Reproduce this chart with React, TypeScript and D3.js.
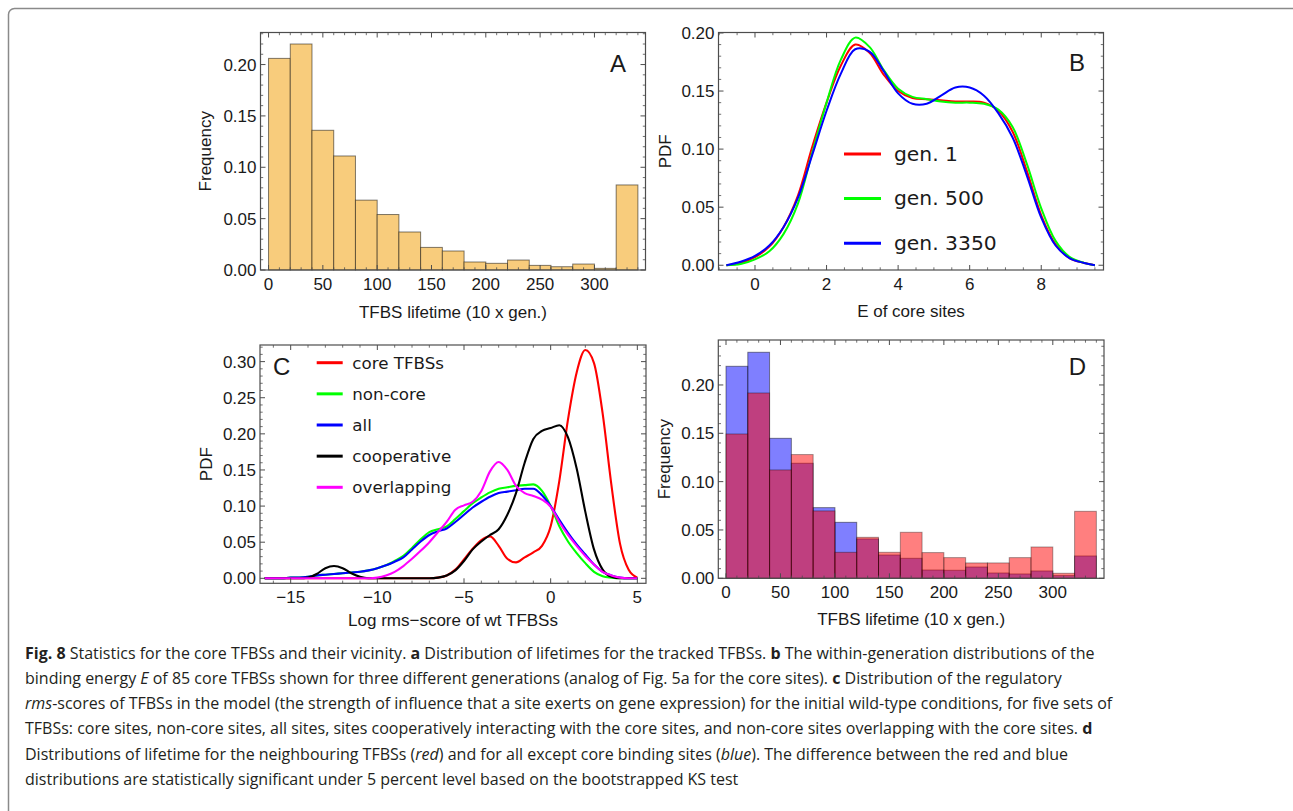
import React from "react";
import * as d3 from "d3";

// ---------- Panel A ----------
const binStarts = [0, 20, 40, 60, 80, 100, 120, 140, 160, 180, 200, 220, 240, 260, 280, 300, 320];
const binWidth = 20;
const lifetimeFreqA = [0.206, 0.22, 0.136, 0.111, 0.068, 0.054, 0.037, 0.022, 0.0185, 0.0078, 0.0065, 0.0097, 0.0045, 0.0032, 0.0058, 0.0016, 0.0828];
const lifetimeTicks = [0, 50, 100, 150, 200, 250, 300];
const freqTicksA = [0, 0.05, 0.1, 0.15, 0.2];

// ---------- Panel B ----------
const energyGrid = [-0.8, -0.4, 0, 0.4, 0.8, 1.2, 1.6, 2.0, 2.4, 2.8, 3.2, 3.6, 4.0, 4.4, 4.8, 5.2, 5.6, 6.0, 6.4, 6.8, 7.2, 7.6, 8.0, 8.4, 8.8, 9.2, 9.5];
const pdfGen1 = [0, 0.002, 0.007, 0.016, 0.033, 0.06, 0.102, 0.14, 0.172, 0.19, 0.183, 0.164, 0.15, 0.144, 0.143, 0.142, 0.141, 0.141, 0.14, 0.133, 0.115, 0.081, 0.043, 0.018, 0.006, 0.002, 0];
const pdfGen500 = [0, 0.001, 0.005, 0.012, 0.027, 0.053, 0.097, 0.14, 0.177, 0.196, 0.188, 0.168, 0.152, 0.145, 0.143, 0.141, 0.14, 0.14, 0.139, 0.134, 0.119, 0.087, 0.049, 0.021, 0.007, 0.002, 0];
const pdfGen3350 = [0, 0.003, 0.008, 0.017, 0.033, 0.058, 0.095, 0.133, 0.165, 0.186, 0.184, 0.167, 0.148, 0.139, 0.139, 0.146, 0.153, 0.153, 0.146, 0.131, 0.11, 0.077, 0.041, 0.017, 0.006, 0.002, 0];
const energyTicks = [0, 2, 4, 6, 8];
const pdfTicksB = [0, 0.05, 0.1, 0.15, 0.2];
const legendB = ["gen. 1", "gen. 500", "gen. 3350"];
const colorsB = ["#ff0000", "#00ff00", "#0000ff"];

// ---------- Panel C ----------
const scoreGrid = [-16.5, -16, -15.5, -15, -14.5, -14, -13.5, -13, -12.5, -12, -11.5, -11, -10.5, -10, -9.5, -9, -8.5, -8, -7.5, -7, -6.5, -6, -5.5, -5, -4.5, -4, -3.5, -3, -2.5, -2, -1.5, -1, -0.5, 0, 0.5, 1, 1.5, 2, 2.5, 3, 3.5, 4, 4.5, 5];
const pdfCore = [0, 0, 0, 0, 0, 0, 0, 0, 0, 0, 0, 0, 0, 0, 0, 0, 0, 0, 0, 0, 0.001, 0.004, 0.012, 0.026, 0.041, 0.053, 0.058, 0.045, 0.027, 0.022, 0.029, 0.036, 0.045, 0.072, 0.135, 0.22, 0.285, 0.316, 0.298, 0.228, 0.13, 0.048, 0.012, 0.001];
const pdfNonCore = [0, 0, 0, 0.001, 0.001, 0.002, 0.004, 0.005, 0.006, 0.007, 0.008, 0.009, 0.011, 0.014, 0.018, 0.024, 0.031, 0.042, 0.054, 0.064, 0.068, 0.072, 0.082, 0.093, 0.104, 0.112, 0.119, 0.124, 0.126, 0.128, 0.129, 0.13, 0.121, 0.1, 0.072, 0.051, 0.035, 0.021, 0.009, 0.003, 0.001, 0, 0, 0];
const pdfAll = [0, 0, 0, 0.001, 0.001, 0.002, 0.004, 0.005, 0.006, 0.007, 0.008, 0.009, 0.011, 0.014, 0.018, 0.023, 0.029, 0.04, 0.051, 0.06, 0.065, 0.069, 0.078, 0.088, 0.098, 0.106, 0.113, 0.118, 0.12, 0.122, 0.124, 0.124, 0.115, 0.1, 0.081, 0.063, 0.047, 0.033, 0.019, 0.009, 0.004, 0.001, 0, 0];
const pdfCoop = [0, 0, 0, 0, 0, 0.001, 0.006, 0.014, 0.017, 0.014, 0.007, 0.002, 0, 0, 0, 0, 0, 0, 0, 0, 0.001, 0.004, 0.011, 0.024, 0.04, 0.051, 0.06, 0.068, 0.088, 0.118, 0.16, 0.193, 0.204, 0.208, 0.212, 0.195, 0.152, 0.092, 0.04, 0.012, 0.002, 0, 0, 0];
const pdfOverlap = [0, 0, 0, 0, 0, 0, 0, 0, 0, 0, 0, 0, 0, 0.001, 0.004, 0.009, 0.017, 0.027, 0.038, 0.05, 0.064, 0.078, 0.095, 0.101, 0.106, 0.121, 0.148, 0.161, 0.15, 0.128, 0.118, 0.114, 0.109, 0.099, 0.078, 0.06, 0.045, 0.031, 0.019, 0.009, 0.004, 0.001, 0, 0];
const legendC = ["core TFBSs", "non-core", "all", "cooperative", "overlapping"];
const colorsC = ["#ff0000", "#00ff00", "#0000ff", "#000000", "#ff00ff"];
const scoreTicks = [-15, -10, -5, 0, 5];
const scoreTickLabels = ["\u221215", "\u221210", "\u22125", "0", "5"];
const pdfTicksC = [0, 0.05, 0.1, 0.15, 0.2, 0.25, 0.3];

// ---------- Panel D ----------
const freqAllExceptCore = [0.2193, 0.2338, 0.1448, 0.119, 0.0731, 0.0579, 0.0407, 0.0241, 0.0207, 0.0086, 0.0083, 0.0117, 0.0055, 0.0045, 0.0076, 0.0028, 0.0231];
const freqNeighbour = [0.1493, 0.1917, 0.1121, 0.128, 0.0697, 0.0269, 0.0424, 0.0269, 0.0476, 0.0266, 0.0214, 0.0159, 0.0159, 0.0214, 0.0324, 0.0052, 0.0693];
const freqTicksD = [0, 0.05, 0.1, 0.15, 0.2];

// ---------- Caption ----------
const captionLines: [string, string][][] = [
  [["b", "Fig. 8"], ["n", " Statistics for the core TFBSs and their vicinity. "], ["b", "a"], ["n", " Distribution of lifetimes for the tracked TFBSs. "], ["b", "b"], ["n", " The within-generation distributions of the"]],
  [["n", "binding energy "], ["i", "E"], ["n", " of 85 core TFBSs shown for three different generations (analog of Fig. 5a for the core sites). "], ["b", "c"], ["n", " Distribution of the regulatory"]],
  [["i", "rms"], ["n", "-scores of TFBSs in the model (the strength of influence that a site exerts on gene expression) for the initial wild-type conditions, for five sets of"]],
  [["n", "TFBSs: core sites, non-core sites, all sites, sites cooperatively interacting with the core sites, and non-core sites overlapping with the core sites. "], ["b", "d"]],
  [["n", "Distributions of lifetime for the neighbouring TFBSs ("], ["i", "red"], ["n", ") and for all except core binding sites ("], ["i", "blue"], ["n", "). The difference between the red and blue"]],
  [["n", "distributions are statistically significant under 5 percent level based on the bootstrapped KS test"]],
];

const AX_FONT = "'Liberation Sans', Arial, sans-serif";
const FRAME = "#4d4d4d";

type Box = { l: number; r: number; t: number; b: number };

function Frame(props: {
  box: Box;
  x: d3.ScaleLinear<number, number>;
  y: d3.ScaleLinear<number, number>;
  xTicks: number[];
  xLabels: string[];
  xMinor: number;
  yTicks: number[];
  yLabels: string[];
  yMinor: number;
  xTitle: string;
  xTitleY: number;
  yTitle: string;
  yTitleX: number;
  letter: string;
  letterX: number;
  letterY: number;
}) {
  const { box, x, y } = props;
  const [x0, x1] = x.domain();
  const [y0, y1] = y.domain();
  const xm = d3.range(Math.ceil(x0 / props.xMinor) * props.xMinor, x1, props.xMinor).filter((v) => !props.xTicks.some((t) => Math.abs(t - v) < 1e-9));
  const ym = d3.range(Math.ceil((y0 - 1e-9) / props.yMinor) * props.yMinor, y1, props.yMinor).filter((v) => !props.yTicks.some((t) => Math.abs(t - v) < 1e-9));
  const M = 5, m = 2.7;
  const cx = (box.l + box.r) / 2;
  const cy = (box.t + box.b) / 2;
  return (
    <g>
      <rect x={box.l} y={box.t} width={box.r - box.l} height={box.b - box.t} fill="none" stroke={FRAME} strokeWidth={1.2} />
      {props.xTicks.map((t) => (
        <g key={"xt" + t}>
          <line x1={x(t)} x2={x(t)} y1={box.b} y2={box.b - M} stroke={FRAME} />
          <line x1={x(t)} x2={x(t)} y1={box.t} y2={box.t + M} stroke={FRAME} />
        </g>
      ))}
      {xm.map((t) => (
        <g key={"xm" + t}>
          <line x1={x(t)} x2={x(t)} y1={box.b} y2={box.b - m} stroke={FRAME} strokeWidth={0.8} />
          <line x1={x(t)} x2={x(t)} y1={box.t} y2={box.t + m} stroke={FRAME} strokeWidth={0.8} />
        </g>
      ))}
      {props.yTicks.map((t) => (
        <g key={"yt" + t}>
          <line x1={box.l} x2={box.l + M} y1={y(t)} y2={y(t)} stroke={FRAME} />
          <line x1={box.r} x2={box.r - M} y1={y(t)} y2={y(t)} stroke={FRAME} />
        </g>
      ))}
      {ym.map((t) => (
        <g key={"ym" + t}>
          <line x1={box.l} x2={box.l + m} y1={y(t)} y2={y(t)} stroke={FRAME} strokeWidth={0.8} />
          <line x1={box.r} x2={box.r - m} y1={y(t)} y2={y(t)} stroke={FRAME} strokeWidth={0.8} />
        </g>
      ))}
      <g fontFamily={AX_FONT} fontSize={17} fill="#1a1a1a">
        {props.xTicks.map((t, i) => (
          <text key={"xl" + t} x={x(t)} y={box.b + 19.5} textAnchor="middle">{props.xLabels[i]}</text>
        ))}
        {props.yTicks.map((t, i) => (
          <text key={"yl" + t} x={box.l - 4} y={y(t) + 6} textAnchor="end">{props.yLabels[i]}</text>
        ))}
        <text x={cx} y={props.xTitleY} textAnchor="middle">{props.xTitle}</text>
        <text transform={`translate(${props.yTitleX},${cy}) rotate(-90)`} textAnchor="middle">{props.yTitle}</text>
        <text x={props.letterX} y={props.letterY} textAnchor="middle" fontSize={24}>{props.letter}</text>
      </g>
    </g>
  );
}

const fmt2 = d3.format(".2f");

export default function App() {
  // Panel A
  const boxA: Box = { l: 260.5, r: 645.5, t: 32.5, b: 270 };
  const xA = d3.scaleLinear().domain([-7.4, 347]).range([boxA.l, boxA.r]);
  const yA = d3.scaleLinear().domain([0, 0.2312]).range([boxA.b, boxA.t]);

  // Panel B
  const boxB: Box = { l: 718.5, r: 1103.5, t: 32.5, b: 270 };
  const xB = d3.scaleLinear().domain([-1.02, 9.74]).range([boxB.l, boxB.r]);
  const yB = d3.scaleLinear().domain([-0.0041, 0.2004]).range([boxB.b, boxB.t]);
  const lineB = (vals: number[]) =>
    d3.line<number>().x((_, i) => xB(energyGrid[i])).y((v) => yB(v)).curve(d3.curveCatmullRom.alpha(0.5))(vals) || "";
  const seriesB = [pdfGen1, pdfGen500, pdfGen3350];

  // Panel C
  const boxC: Box = { l: 260, r: 646, t: 345, b: 583.3 };
  const xC = d3.scaleLinear().domain([-16.77, 5.5]).range([boxC.l, boxC.r]);
  const yC = d3.scaleLinear().domain([-0.0069, 0.323]).range([boxC.b, boxC.t]);
  const lineC = (vals: number[]) =>
    d3.line<number>().x((_, i) => xC(scoreGrid[i])).y((v) => yC(v)).curve(d3.curveMonotoneX)(vals) || "";
  const seriesC = [pdfCore, pdfNonCore, pdfAll, pdfCoop, pdfOverlap];

  // Panel D
  const boxD: Box = { l: 718.3, r: 1104, t: 340, b: 578.3 };
  const xD = d3.scaleLinear().domain([-7.07, 347]).range([boxD.l, boxD.r]);
  const yD = d3.scaleLinear().domain([0, 0.2465]).range([boxD.b, boxD.t]);

  return (
    <svg width={1293} height={811} style={{ position: "absolute", left: 0, top: 0, background: "#fff" }} xmlns="http://www.w3.org/2000/svg">
      <rect x={8.5} y={8.5} width={1400} height={900} rx={6} fill="none" stroke="#8a8a8a" strokeWidth={1.5} />

      {/* Panel A */}
      <g>
        {binStarts.map((s, i) => (
          <rect key={"a" + i} x={xA(s)} y={yA(lifetimeFreqA[i])} width={xA(s + binWidth) - xA(s)} height={yA(0) - yA(lifetimeFreqA[i])}
            fill="#f8cc7c" stroke="#000" strokeOpacity={0.5} strokeWidth={1} />
        ))}
        <Frame box={boxA} x={xA} y={yA} xTicks={lifetimeTicks} xLabels={lifetimeTicks.map(String)} xMinor={10}
          yTicks={freqTicksA} yLabels={freqTicksA.map(fmt2)} yMinor={0.01}
          xTitle="TFBS lifetime (10 x gen.)" xTitleY={318} yTitle="Frequency" yTitleX={210.5}
          letter="A" letterX={618} letterY={72} />
      </g>

      {/* Panel B */}
      <g>
        <g fill="none" strokeWidth={2}>
          {seriesB.map((s, i) => (
            <path key={"b" + i} d={lineB(s)} stroke={colorsB[i]} />
          ))}
        </g>
        {legendB.map((name, i) => (
          <g key={"lb" + i}>
            <line x1={844} x2={881} y1={154 + i * 44.6} y2={154 + i * 44.6} stroke={colorsB[i]} strokeWidth={3} />
            <text x={894} y={161 + i * 44.3} fontFamily="'DejaVu Sans', sans-serif" fontSize={20.3} fill="#1a1a1a">{name}</text>
          </g>
        ))}
        <Frame box={boxB} x={xB} y={yB} xTicks={energyTicks} xLabels={energyTicks.map(String)} xMinor={0.5}
          yTicks={pdfTicksB} yLabels={pdfTicksB.map(fmt2)} yMinor={0.01}
          xTitle="E of core sites" xTitleY={317} yTitle="PDF" yTitleX={670.5}
          letter="B" letterX={1077} letterY={71} />
      </g>

      {/* Panel C */}
      <g>
        <g fill="none" strokeWidth={2.1}>
          {seriesC.map((s, i) => (
            <path key={"c" + i} d={lineC(s)} stroke={colorsC[i]} />
          ))}
        </g>
        {legendC.map((name, i) => (
          <g key={"lc" + i}>
            <line x1={316.7} x2={342.7} y1={362.7 + i * 31.15} y2={362.7 + i * 31.15} stroke={colorsC[i]} strokeWidth={3} />
            <text x={352.3} y={368.6 + i * 31.15} fontFamily="'DejaVu Sans', sans-serif" fontSize={16.7} fill="#1a1a1a">{name}</text>
          </g>
        ))}
        <Frame box={boxC} x={xC} y={yC} xTicks={scoreTicks} xLabels={scoreTickLabels} xMinor={1}
          yTicks={pdfTicksC} yLabels={pdfTicksC.map(fmt2)} yMinor={0.01}
          xTitle={"Log rms\u2212score of wt TFBSs"} xTitleY={626} yTitle="PDF" yTitleX={211.5}
          letter="C" letterX={281.7} letterY={375} />
      </g>

      {/* Panel D */}
      <g>
        {binStarts.map((s, i) => (
          <rect key={"db" + i} x={xD(s)} y={yD(freqAllExceptCore[i])} width={xD(s + binWidth) - xD(s)} height={yD(0) - yD(freqAllExceptCore[i])}
            fill="#0000ff" fillOpacity={0.5} stroke="#000" strokeOpacity={0.45} strokeWidth={1} />
        ))}
        {binStarts.map((s, i) => (
          <rect key={"dr" + i} x={xD(s)} y={yD(freqNeighbour[i])} width={xD(s + binWidth) - xD(s)} height={yD(0) - yD(freqNeighbour[i])}
            fill="#ff0000" fillOpacity={0.5} stroke="#000" strokeOpacity={0.35} strokeWidth={1} />
        ))}
        <Frame box={boxD} x={xD} y={yD} xTicks={lifetimeTicks} xLabels={lifetimeTicks.map(String)} xMinor={10}
          yTicks={freqTicksD} yLabels={freqTicksD.map(fmt2)} yMinor={0.01}
          xTitle="TFBS lifetime (10 x gen.)" xTitleY={625} yTitle="Frequency" yTitleX={670}
          letter="D" letterX={1077.5} letterY={375} />
      </g>

      {/* Caption */}
      <g fontFamily="'Open Sans', 'Noto Sans', sans-serif" fontSize={16} fill="#231f20">
        {captionLines.map((parts, li) => (
          <text key={"cap" + li} x={25} y={658.5 + li * 25.3}>
            {parts.map(([kind, str], pi) => (
              <tspan key={pi} fontWeight={kind === "b" ? 700 : 400} fontStyle={kind === "i" ? "italic" : "normal"}>{str}</tspan>
            ))}
          </text>
        ))}
      </g>
    </svg>
  );
}
